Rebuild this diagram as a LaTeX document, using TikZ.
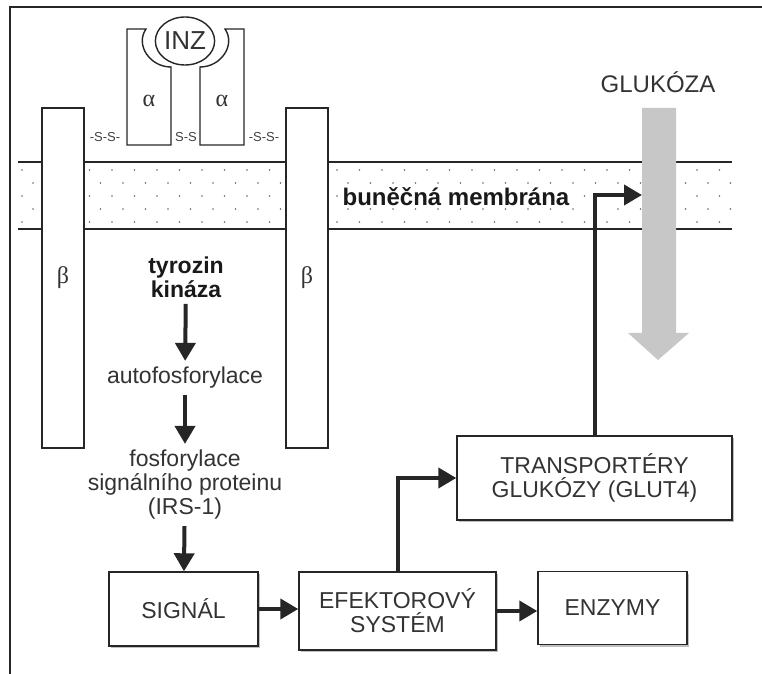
\documentclass[tikz,border=0pt]{standalone}
\usepackage{fontspec}
\setmainfont{Liberation Sans}
\newfontfamily\greekfont{Liberation Serif}
\usetikzlibrary{arrows.meta,shapes.geometric,shadows}

\tikzset{
  box/.style={draw=black!85,line width=0.7pt,fill=white,text=black!80,align=center,
    font=\fontsize{11.5}{12}\selectfont,inner sep=0pt,
    drop shadow={shadow xshift=1pt,shadow yshift=-1pt,fill=black!25,opacity=1}},
  txt/.style={text=black!80,align=center,font=\fontsize{11.5}{12}\selectfont,inner sep=3pt},
  boldtxt/.style={text=black!90,align=center,font=\bfseries\fontsize{11.5}{12}\selectfont,inner sep=3pt},
  flow/.style={draw=black!85,line width=2pt,-{Triangle[width=10pt,length=9pt]}},
  recept/.style={draw=black!85,line width=0.7pt,fill=white},
  greek/.style={text=black!80,font=\greekfont\fontsize{12}{12}\selectfont},
  beta/.style={recept,greek,minimum width=21pt,minimum height=170pt,inner sep=0pt},
  membr/.style={draw=black!85,line width=0.6pt},
  ss/.style={text=black!75,font=\fontsize{6.5}{7}\selectfont,inner sep=0pt}
}

\begin{document}
\begin{tikzpicture}[x=0.5pt,y=-0.5pt]
  \useasboundingbox (0,0) rectangle (762,674);
  \draw[line width=1pt,black!85] (10,674) -- (10,7) -- (762,7);

  % membrana
  \draw[membr] (18,162) -- (732,162);
  \draw[membr] (18,229) -- (732,229);
  \foreach \row in {0,...,4}
    \foreach \col in {0,...,31}
      \fill[black!60] ({22+\col*22.5+mod(\row,2)*11},{170+\row*13}) circle (0.4pt);

  \node[beta] (betaL) at (63,278) {β};
  \node[beta] (betaR) at (307,278) {β};
  \node[boldtxt,fill=white,inner sep=1pt,font=\bfseries\fontsize{12}{12}\selectfont] (membrana) at (456,197) {buněčná membrána};

  % receptor
  \draw[recept] (127,29) -- (127,145) -- (171,145) -- (171,67)
    .. controls (150,67) and (135,45) .. (146,29) -- cycle;
  \draw[recept] (244,29) -- (244,145) -- (200,145) -- (200,67)
    .. controls (221,67) and (236,45) .. (225,29) -- cycle;
  \node[ellipse,draw=black!85,line width=0.7pt,fill=white,minimum width=27pt,minimum height=24pt,
    inner sep=0pt,text=black!80,font=\fontsize{13}{13}\selectfont] (inz) at (185,41) {INZ};
  \node[greek] (alphaL) at (149,101) {α};
  \node[greek] (alphaR) at (222,101) {α};
  \node[ss] (ssL) at (105,137) {-S-S-};
  \node[ss] (ssM) at (186,137) {S-S};
  \node[ss] (ssR) at (264,137) {-S-S-};

  % glukoza
  \fill[black!22] (642,108) -- (676,108) -- (676,333) -- (689,333) -- (658,360)
    -- (628,333) -- (642,333) -- cycle;
  \node[txt,font=\fontsize{12}{12}\selectfont] (glukoza) at (658,82) {GLUKÓZA};
  \coordinate (glukin) at (642,195);

  % signalni drahy
  \node[boldtxt] (tk) at (186,277) {tyrozin\\kináza};
  \node[txt] (auto) at (185,378) {autofosforylace};
  \node[txt] (irs) at (185,485) {fosforylace\\signálního proteinu\\(IRS-1)};

  \node[box,minimum width=74.5pt,minimum height=37pt] (signal) at (183.5,609) {SIGNÁL};
  \node[box,minimum width=98.5pt,minimum height=39pt] (efektor) at (397.5,611) {EFEKTOROVÝ\\SYSTÉM};
  \node[box,minimum width=74.5pt,minimum height=36.5pt] (enzymy) at (612.5,608) {ENZYMY};
  \node[box,minimum width=137.5pt,minimum height=42pt] (glut) at (594.5,478) {TRANSPORTÉRY\\GLUKÓZY (GLUT4)};

  \draw[flow] (tk) -- (auto);
  \draw[flow] (auto) -- (irs);
  \draw[flow] (irs) -- (signal);
  \draw[flow] (signal.east) -- (signal.east -| efektor.west);
  \draw[flow] (efektor.east) -- (efektor.east -| enzymy.west);
  \draw[flow] (efektor.north) |- (glut.west);
  \draw[flow] (glut.north) |- (glukin);
\end{tikzpicture}
\end{document}
